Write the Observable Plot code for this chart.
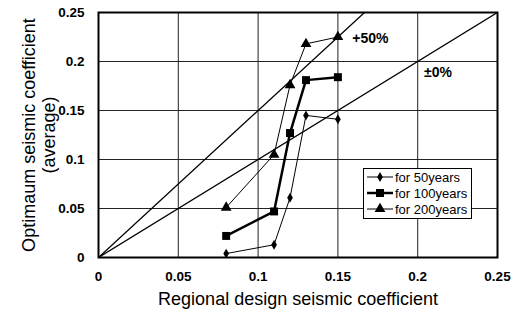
<!DOCTYPE html>
<html><head><meta charset="utf-8">
<script src="https://cdn.jsdelivr.net/npm/d3@7"></script>
<script src="https://cdn.jsdelivr.net/npm/@observablehq/plot@0.6"></script>
<style>
body{margin:0;background:#fff;font-family:"Liberation Sans",Arial,sans-serif;}
#wrap{position:relative;width:532px;height:313px;}
#legend{position:absolute;left:363px;top:168px;width:107px;height:49px;border:1.5px solid #000;background:#fff;font-size:13px;}
#legend .row{display:flex;align-items:center;height:16px;}
#legend svg{margin-left:2px;margin-right:1px;}
</style></head><body>
<div id="wrap"><div id="legend"></div></div>
<script>
const xCoef = [0.08, 0.11, 0.12, 0.13, 0.15];
const y50  = [0.004, 0.013, 0.061, 0.145, 0.141];
const y100 = [0.022, 0.047, 0.127, 0.181, 0.184];
const y200 = [0.051, 0.105, 0.176, 0.218, 0.225];
const seriesNames = ["for 50years", "for 100years", "for 200years"];
const tickValues = [0, 0.05, 0.1, 0.15, 0.2, 0.25];
const tickLabels = ["0", "0.05", "0.1", "0.15", "0.2", "0.25"];
const refFactors = [1.0, 1.5];
const refLabels = ["±0%", "+50%"];
const refLabelX = [0.204, 0.159];
const refLabelY = [0.189, 0.2235];
const xTitle = "Regional design seismic coefficient";
const yTitle = "Optimaum seismic coefficient\n(average)";

const seriesY = [y50, y100, y200];
const symbols = ["diamond", "square", "triangle"];
const widths = [1, 2.5, 1];
const sizes = [3, 4.5, 4];
const data = [];
seriesNames.forEach((s, i) => xCoef.forEach((x, j) => data.push({s, x, y: seriesY[i][j], i})));
const refLines = [];
refFactors.forEach((f, k) => { refLines.push({k, x: 0, y: 0}); refLines.push({k, x: 0.25, y: 0.25 * f}); });
const annos = refLabels.map((t, k) => ({t, x: refLabelX[k], y: refLabelY[k]}));
const fmt = d => tickLabels[tickValues.indexOf(d)];
const inner = tickValues.slice(1, -1);

const marks = [
  Plot.ruleX(inner, {stroke: "#222", strokeWidth: 1}),
  Plot.ruleY(inner, {stroke: "#222", strokeWidth: 1}),
  Plot.line(refLines, {x: "x", y: "y", z: "k", stroke: "#000", strokeWidth: 1.3, clip: true}),
];
seriesNames.forEach((s, i) => {
  const d = data.filter(r => r.i === i);
  marks.push(Plot.line(d, {x: "x", y: "y", stroke: "#000", strokeWidth: widths[i]}));
  marks.push(Plot.dot(d, {x: "x", y: "y", symbol: () => symbols[i], fill: "#000", stroke: "none", r: sizes[i]}));
});
marks.push(Plot.text(annos, {x: "x", y: "y", text: "t", fontSize: 14, fontWeight: "bold", fill: "#000", textAnchor: "start"}));
marks.push(Plot.frame({stroke: "#000", strokeWidth: 2}));
marks.push(Plot.text([yTitle], {frameAnchor: "left", textAnchor: "middle", dx: -60, rotate: -90, fontSize: 18, lineHeight: 1.1, fill: "#000"}));
marks.push(Plot.text([xTitle], {frameAnchor: "bottom", textAnchor: "middle", dy: 47, fontSize: 18, fill: "#000"}));

const chart = Plot.plot({
  width: 532, height: 313,
  marginLeft: 98, marginRight: 35, marginTop: 12, marginBottom: 56,
  style: {fontFamily: "'Liberation Sans', Arial, sans-serif", background: "#fff", color: "#000"},
  x: {domain: [0, 0.25], ticks: tickValues, tickFormat: fmt, tickSize: 0, tickPadding: 14, label: null},
  y: {domain: [0, 0.25], ticks: tickValues, tickFormat: fmt, tickSize: 0, tickPadding: 14, label: null},
  symbol: {type: "identity"},
  marks
});
d3.select(chart).selectAll("g[aria-label='x-axis tick label'], g[aria-label='y-axis tick label']").attr("font-weight", "bold").attr("font-size", 13.5);
document.getElementById("wrap").prepend(chart);

const leg = d3.select("#legend");
seriesNames.forEach((s, i) => {
  const row = leg.append("div").attr("class", "row");
  const svg = row.append("svg").attr("width", 28).attr("height", 14);
  svg.append("line").attr("x1", 1).attr("x2", 27).attr("y1", 7).attr("y2", 7).attr("stroke", "#000").attr("stroke-width", widths[i]);
  const sym = [d3.symbolDiamond, d3.symbolSquare, d3.symbolTriangle][i];
  svg.append("path").attr("transform", "translate(14,7)").attr("d", d3.symbol(sym, Math.PI * sizes[i] * sizes[i])()).attr("fill", "#000");
  row.append("span").text(s);
});
</script>
</body></html>
